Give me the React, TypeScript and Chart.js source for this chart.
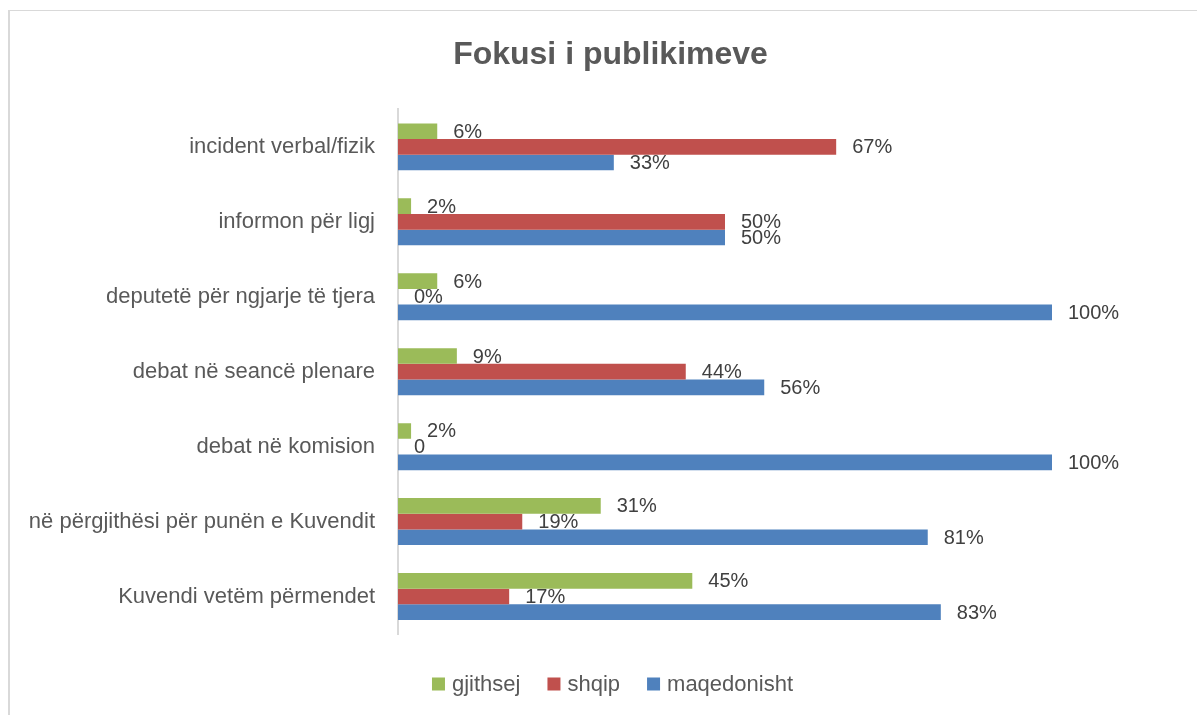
import React, { useEffect, useRef } from "react";
import { Chart, registerables } from "chart.js";

Chart.register(...registerables);

const chartTitle = "Fokusi i publikimeve";
const categories = [
  "incident verbal/fizik",
  "informon për ligj",
  "deputetë për ngjarje të tjera",
  "debat në seancë plenare",
  "debat në komision",
  "në përgjithësi për punën e Kuvendit",
  "Kuvendi vetëm përmendet",
];
const gjithsej = [6, 2, 6, 9, 2, 31, 45];
const shqip = [67, 50, 0, 44, 0, 19, 17];
const maqedonisht = [33, 50, 100, 56, 100, 81, 83];
const seriesNames = ["gjithsej", "shqip", "maqedonisht"];
const seriesColors = ["#9BBB59", "#C0504D", "#4F81BD"];
// data label texts as printed in the source ("debat në komision" / shqip shows a bare "0")
const gjithsejLabels = ["6%", "2%", "6%", "9%", "2%", "31%", "45%"];
const shqipLabels = ["67%", "50%", "0%", "44%", "0", "19%", "17%"];
const maqedonishtLabels = ["33%", "50%", "100%", "56%", "100%", "81%", "83%"];
const xMin = 0;
const xMax = 100;

const FONT = "'Liberation Sans', Arial, sans-serif";

const titlePlugin = {
  id: "customTitle",
  afterDraw(chart: any) {
    const ctx = chart.ctx;
    ctx.save();
    ctx.font = `bold 32px ${FONT}`;
    ctx.fillStyle = "#595959";
    ctx.textAlign = "center";
    ctx.textBaseline = "middle";
    ctx.fillText(chartTitle, chart.width / 2 + 12, 55);
    ctx.restore();
  },
};

const dataLabelPlugin = {
  id: "dataLabels",
  afterDatasetsDraw(chart: any) {
    const ctx = chart.ctx;
    ctx.save();
    ctx.font = `20px ${FONT}`;
    ctx.fillStyle = "#404040";
    ctx.textAlign = "left";
    ctx.textBaseline = "middle";
    chart.data.datasets.forEach((ds: any, di: number) => {
      const meta = chart.getDatasetMeta(di);
      meta.data.forEach((el: any, i: number) => {
        ctx.fillText(ds.labelTexts[i], el.x + 16, el.y + 1);
      });
    });
    ctx.restore();
  },
};

const legendPlugin = {
  id: "customLegend",
  afterDraw(chart: any) {
    const ctx = chart.ctx;
    ctx.save();
    ctx.font = `22px ${FONT}`;
    ctx.textBaseline = "middle";
    ctx.textAlign = "left";
    const box = 13;
    const gapBoxText = 7;
    const gapItem = 27;
    const ds = chart.data.datasets;
    const widths = ds.map((d: any) => box + gapBoxText + ctx.measureText(d.label).width);
    const total = widths.reduce((a: number, b: number) => a + b, 0) + gapItem * (ds.length - 1);
    let x = chart.width / 2 + 14 - total / 2;
    const yc = 684;
    ds.forEach((d: any, i: number) => {
      ctx.fillStyle = d.backgroundColor;
      ctx.fillRect(x, yc - box / 2, box, box);
      ctx.fillStyle = "#595959";
      ctx.fillText(d.label, x + box + gapBoxText, yc + 1);
      x += widths[i] + gapItem;
    });
    ctx.restore();
  },
};

export default function App() {
  const canvasRef = useRef<HTMLCanvasElement | null>(null);

  useEffect(() => {
    if (!canvasRef.current) return;
    const seriesValues = [gjithsej, shqip, maqedonisht];
    const seriesLabels = [gjithsejLabels, shqipLabels, maqedonishtLabels];
    const chart = new Chart(canvasRef.current, {
      type: "bar",
      data: {
        labels: categories,
        datasets: seriesNames.map((name, i) => ({
          label: name,
          data: seriesValues[i],
          backgroundColor: seriesColors[i],
          borderWidth: 0,
          categoryPercentage: 0.627,
          barPercentage: 1,
          labelTexts: seriesLabels[i],
        })) as any,
      },
      options: {
        indexAxis: "y",
        animation: false,
        responsive: true,
        maintainAspectRatio: false,
        layout: { padding: { left: 0, right: 145, top: 109.4, bottom: 81 } },
        plugins: {
          legend: { display: false },
          tooltip: { enabled: false },
          title: { display: false },
        },
        scales: {
          x: {
            display: false,
            min: xMin,
            max: xMax,
          },
          y: {
            afterFit(scale: any) {
              scale.width = 398;
            },
            grid: { display: false, drawTicks: false },
            border: { display: true, color: "#d9d9d9", width: 2 },
            ticks: {
              padding: 23,
              color: "#595959",
              font: { family: FONT, size: 22 },
            },
          },
        },
      },
      plugins: [titlePlugin, dataLabelPlugin, legendPlugin],
    });
    return () => chart.destroy();
  }, []);

  return (
    <div
      style={{
        position: "fixed",
        left: 0,
        top: 0,
        width: 1197,
        height: 715,
        overflow: "hidden",
        background: "#ffffff",
      }}
    >
      <div
        style={{
          position: "absolute",
          left: 8,
          top: 10,
          width: 1300,
          height: 800,
          borderTop: "1px solid #d9d9d9",
          borderLeft: "2px solid #d9d9d9",
        }}
      />
      <div style={{ position: "absolute", left: 0, top: 0, width: 1197, height: 715 }}>
        <canvas ref={canvasRef} />
      </div>
    </div>
  );
}
